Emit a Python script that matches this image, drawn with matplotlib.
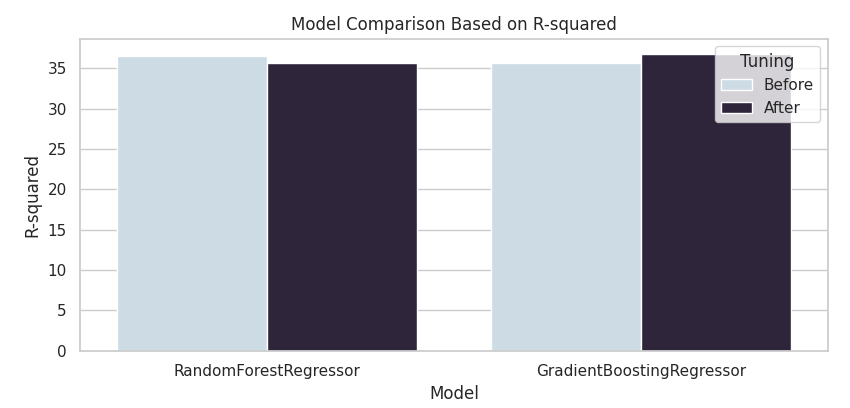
import matplotlib
matplotlib.use("Agg")
import matplotlib.pyplot as plt
import seaborn as sns
import pandas as pd

models = ["RandomForestRegressor", "RandomForestRegressor",
          "GradientBoostingRegressor", "GradientBoostingRegressor"]
tuning = ["Before", "After", "Before", "After"]
r_squared = [36.5, 35.6, 35.6, 36.8]

df = pd.DataFrame({"Model": models, "Tuning": tuning, "R-squared": r_squared})

sns.set_theme(style="whitegrid")
fig, ax = plt.subplots(figsize=(8.5, 4.08), dpi=100)
sns.barplot(data=df, x="Model", y="R-squared", hue="Tuning",
            palette=["#c9dde8", "#2d213f"], ax=ax)
ax.set_title("Model Comparison Based on R-squared")
ax.legend(title="Tuning", loc="upper right")
fig.subplots_adjust(left=0.094, right=0.974, top=0.905, bottom=0.14)
fig.savefig("out.png")
